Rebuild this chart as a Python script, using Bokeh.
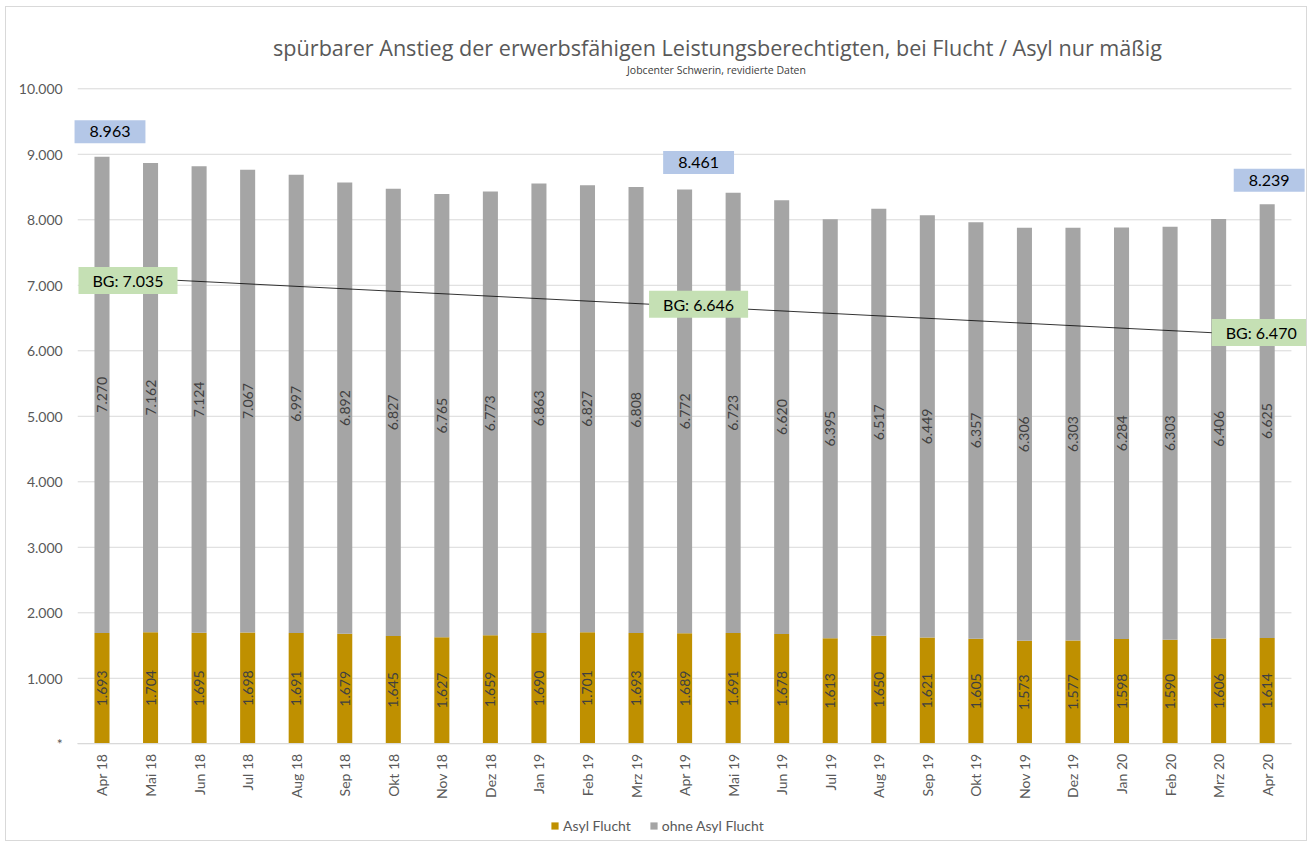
from bokeh.plotting import figure
from bokeh.models import (ColumnDataSource, LabelSet, Label, Range1d,
                          CustomJSTickFormatter, Legend, LegendItem, FixedTicker)
from bokeh.core.properties import value
from bokeh.embed import file_html
from bokeh.resources import INLINE
import math

# ---------------- data ----------------
months = ["Apr 18", "Mai 18", "Jun 18", "Jul 18", "Aug 18", "Sep 18", "Okt 18", "Nov 18",
          "Dez 18", "Jan 19", "Feb 19", "Mrz 19", "Apr 19", "Mai 19", "Jun 19", "Jul 19",
          "Aug 19", "Sep 19", "Okt 19", "Nov 19", "Dez 19", "Jan 20", "Feb 20", "Mrz 20", "Apr 20"]
asyl = [1693, 1704, 1695, 1698, 1691, 1679, 1645, 1627, 1659, 1690, 1701, 1693, 1689,
        1691, 1678, 1613, 1650, 1621, 1605, 1573, 1577, 1598, 1590, 1606, 1614]
ohne = [7270, 7162, 7124, 7067, 6997, 6892, 6827, 6765, 6773, 6863, 6827, 6808, 6772,
        6723, 6620, 6395, 6517, 6449, 6357, 6306, 6303, 6284, 6303, 6406, 6625]
total_months = ["Apr 18", "Apr 19", "Apr 20"]
bg_months = ["Apr 18", "Apr 19", "Apr 20"]
bg_values = [7035, 6646, 6470]
y_ticks = [0, 1000, 2000, 3000, 4000, 5000, 6000, 7000, 8000, 9000, 10000]

title_text = "spürbarer Anstieg der erwerbsfähigen Leistungsberechtigten, bei Flucht / Asyl nur mäßig"
subtitle_text = "Jobcenter Schwerin, revidierte Daten"

# ---------------- styles ----------------
FONT = "Lato"
TFONT = "Open Sans"
GOLD = "#BF9000"
GRAY = "#A5A5A5"
TXT = "#595959"
LBL = "#404040"
GRID = "#D9D9D9"
BLUE_BOX = "#B4C7E7"
GREEN_BOX = "#C5E0B4"
W, H = 1302, 835

def de(v):
    return f"{v:,}".replace(",", ".")

xi = list(range(len(months)))
mid_a = [a / 2 for a in asyl]
mid_o = [a + o / 2 for a, o in zip(asyl, ohne)]
src = ColumnDataSource(dict(
    x=xi, month=months, asyl=asyl, ohne=ohne, mid_a=mid_a, mid_o=mid_o,
    lab_a=[de(v) for v in asyl], lab_o=[de(v) for v in ohne],
))

x_lo, x_hi = -0.5, len(months) - 0.5
# the plot frame covers the whole canvas; axes are pinned inside it
p = figure(x_range=Range1d(-1.967, 24.851), y_range=Range1d(-1507, 11241),
           width=W, height=H, output_backend="svg", toolbar_location=None, title=None,
           min_border=0, min_border_left=0, min_border_right=0,
           min_border_top=0, min_border_bottom=0)
p.styles = {"margin-left": "5px", "margin-top": "6px", "border": "1px solid #D9D9D9"}
p.outline_line_color = None
p.background_fill_color = "white"
p.border_fill_color = "white"
p.xgrid.visible = False
p.ygrid.visible = False

# horizontal grid lines spanning the category area only
p.segment(x0=[x_lo] * len(y_ticks), x1=[x_hi] * len(y_ticks), y0=y_ticks, y1=y_ticks,
          line_color=GRID, line_width=1)

# secondary (hidden) range for the BG trend line
p.extra_y_ranges = {"bg": Range1d(1615, 9611)}

rs = p.vbar_stack(["asyl", "ohne"], x="x", width=0.31, color=[GOLD, GRAY],
                  source=src, line_color=None)

# data labels inside segments
for col, ycol in (("lab_a", "mid_a"), ("lab_o", "mid_o")):
    p.add_layout(LabelSet(x="x", y=ycol, text=col, source=src, angle=math.pi / 2,
                          text_align="center", text_baseline="middle",
                          text_font=value(FONT), text_font_size="14px", text_color=LBL))

# BG trend line (first to last value)
p.line(x=[months.index(bg_months[0]), months.index(bg_months[-1])],
       y=[bg_values[0], bg_values[-1]],
       y_range_name="bg", line_color="black", line_width=0.8)

# total labels
tot = {m: a + o for m, a, o in zip(months, asyl, ohne)}
tot_offsets = [(8, 25), (14, 27), (2, 24)]
for m, (dx, dy) in zip(total_months, tot_offsets):
    p.add_layout(Label(x=months.index(m), y=tot[m], text=de(tot[m]), x_offset=dx, y_offset=dy,
                       text_align="center", text_baseline="middle",
                       text_font=FONT, text_font_size="16px", text_color="black",
                       background_fill_color=BLUE_BOX,
                       padding=dict(left=15, right=15, top=6, bottom=6)))

bg_offsets = [(26, -4), (14, 13), (-6, 3)]
for m, v, (dx, dy) in zip(bg_months, bg_values, bg_offsets):
    p.add_layout(Label(x=months.index(m), y=v, y_range_name="bg", text="BG: " + de(v),
                       x_offset=dx, y_offset=dy,
                       text_align="center", text_baseline="middle",
                       text_font=FONT, text_font_size="16px", text_color="black",
                       background_fill_color=GREEN_BOX,
                       padding=dict(left=14, right=14, top=4, bottom=4)))

# axes (pinned at the category-area edge and at y = 0)
p.yaxis.fixed_location = x_lo
p.yaxis.ticker = FixedTicker(ticks=y_ticks)
p.yaxis.formatter = CustomJSTickFormatter(code="return tick == 0 ? '*' : (tick/1000).toFixed(3);")
p.yaxis.axis_line_color = None
p.yaxis.major_tick_line_color = None
p.yaxis.minor_tick_line_color = None
p.yaxis.major_tick_out = 0
p.yaxis.major_label_text_font = FONT
p.yaxis.major_label_text_font_size = "14px"
p.yaxis.major_label_text_color = TXT
p.yaxis.major_label_standoff = 15

p.xaxis.fixed_location = 0
p.xaxis.ticker = FixedTicker(ticks=xi)
p.xaxis.major_label_overrides = {i: m for i, m in zip(xi, months)}
p.xaxis.bounds = (x_lo, x_hi)
p.xaxis.axis_line_color = GRID
p.xaxis.major_tick_line_color = None
p.xaxis.minor_tick_line_color = None
p.xaxis.major_tick_out = 0
p.xaxis.major_label_orientation = math.pi / 2
p.xaxis.major_label_text_font = FONT
p.xaxis.major_label_text_font_size = "14px"
p.xaxis.major_label_text_color = TXT
p.xaxis.major_label_standoff = 10

# titles
p.add_layout(Label(x=711, y=H - 40, x_units="screen", y_units="screen", text=title_text,
                   text_align="center", text_baseline="middle", text_font=TFONT,
                   text_font_size="21.6px", text_color=TXT))
p.add_layout(Label(x=710, y=H - 62, x_units="screen", y_units="screen", text=subtitle_text,
                   text_align="center", text_baseline="middle", text_font=TFONT,
                   text_font_size="10.5px", text_color=LBL))

legend = Legend(items=[LegendItem(label="Asyl Flucht", renderers=[rs[0]]),
                       LegendItem(label="ohne Asyl Flucht", renderers=[rs[1]])],
                location=(544, 8), orientation="horizontal",
                border_line_color=None, background_fill_alpha=0,
                label_text_font=FONT, label_text_font_size="14px", label_text_color=TXT,
                glyph_width=9, glyph_height=9, label_standoff=4, spacing=18,
                padding=0, margin=0)
p.add_layout(legend, "center")

open("out.html", "w").write(file_html(p, INLINE))
